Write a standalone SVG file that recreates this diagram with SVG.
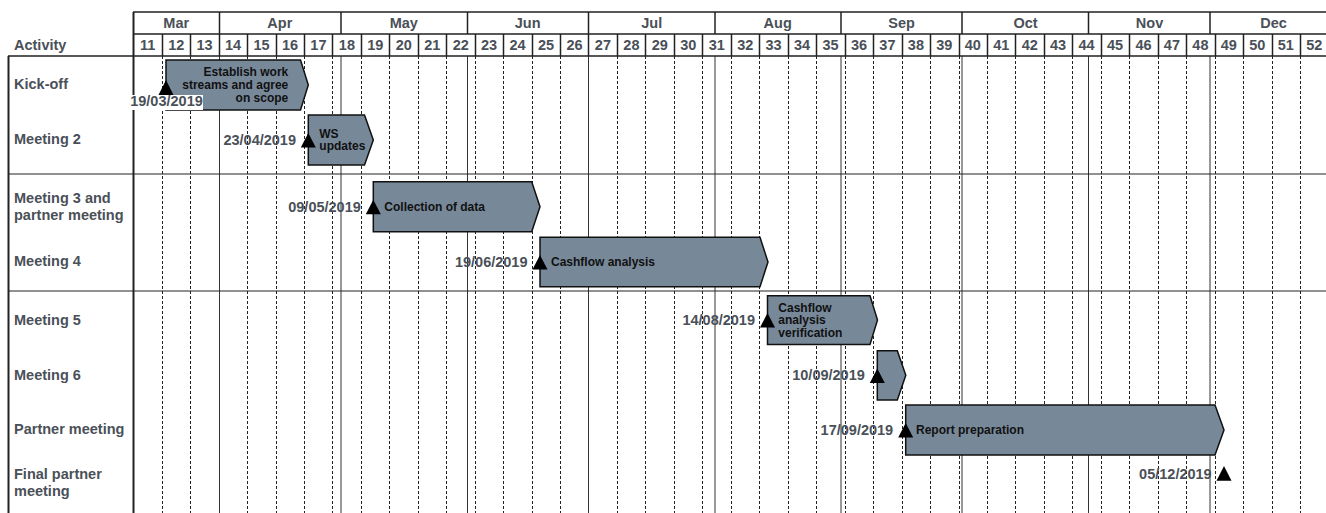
<svg xmlns="http://www.w3.org/2000/svg" width="1326" height="513" viewBox="0 0 1326 513">
<style>
.hd{font-family:"Liberation Sans",Arial,sans-serif;font-weight:bold;font-size:14.5px;fill:#4a5058}
.mc{text-anchor:middle}
.dt{font-family:"Liberation Sans",Arial,sans-serif;font-weight:bold;font-size:14.5px;fill:#4a5058;text-anchor:end}
.bt{font-family:"Liberation Sans",Arial,sans-serif;font-weight:bold;font-size:12px;fill:#111}
.bar{fill:#778899;stroke:#111;stroke-width:1.5;stroke-linejoin:miter}
.ms{fill:#000}
.hg{stroke:#222;stroke-width:1.5;fill:none}
.dash{stroke:#222;stroke-width:1;stroke-dasharray:3 2}
.mon{stroke:#333;stroke-width:1}
.row{stroke:#222;stroke-width:1}
</style>
<rect x="0" y="0" width="1326" height="513" fill="#fff"/>
<g id="grid">
  <g id="week-dashes">
    <path class="dash" d="M162.5 56V513M190.5 56V513M247.5 56V513M276.5 56V513M304.5 56V513M332.5 56V513M361.5 56V513M389.5 56V513M418.5 56V513M446.5 56V513M475.5 56V513M503.5 56V513M532.5 56V513M560.5 56V513M617.5 56V513M645.5 56V513M674.5 56V513M702.5 56V513M731.5 56V513M759.5 56V513M788.5 56V513M816.5 56V513M845.5 56V513M873.5 56V513M902.5 56V513M930.5 56V513M959.5 56V513M987.5 56V513M1015.5 56V513M1044.5 56V513M1072.5 56V513M1101.5 56V513M1129.5 56V513M1158.5 56V513M1186.5 56V513M1215.5 56V513M1243.5 56V513M1272.5 56V513M1300.5 56V513"/>
  </g>
  <g id="month-lines">
    <path class="mon" d="M219.5 56V513M341 56V513M467.5 56V513M588.5 56V513M715 56V513M841 56V513M962 56V513M1088.5 56V513M1210 56V513"/>
  </g>
  <g id="rows">
    <path class="row" d="M8 174H1326M8 291H1326"/>
  </g>
  <g id="header">
    <path class="hg" d="M133 12H1326M133 34H1326M8 56H1326"/>
    <path class="hg" d="M219.5 12V34M341 12V34M467.5 12V34M588.5 12V34M715 12V34M841 12V34M962 12V34M1088.5 12V34M1210 12V34"/>
    <path class="hg" d="M162.5 34V56M190.5 34V56M219.5 34V56M247.5 34V56M276.5 34V56M304.5 34V56M332.5 34V56M361.5 34V56M389.5 34V56M418.5 34V56M446.5 34V56M475.5 34V56M503.5 34V56M532.5 34V56M560.5 34V56M588.5 34V56M617.5 34V56M645.5 34V56M674.5 34V56M702.5 34V56M731.5 34V56M759.5 34V56M788.5 34V56M816.5 34V56M845.5 34V56M873.5 34V56M902.5 34V56M930.5 34V56M959.5 34V56M987.5 34V56M1015.5 34V56M1044.5 34V56M1072.5 34V56M1101.5 34V56M1129.5 34V56M1158.5 34V56M1186.5 34V56M1215.5 34V56M1243.5 34V56M1272.5 34V56M1300.5 34V56"/>
    <path d="M133.5 12V513" stroke="#222" stroke-width="2"/>
    <path d="M8.5 56V513" stroke="#222" stroke-width="2"/>
    <text class="hd" x="14" y="50">Activity</text>
    <g class="hd mc">
      <text x="176.2" y="28">Mar</text>
      <text x="279.8" y="28">Apr</text>
      <text x="403.8" y="28">May</text>
      <text x="527.7" y="28">Jun</text>
      <text x="651.7" y="28">Jul</text>
      <text x="777.7" y="28">Aug</text>
      <text x="901.6" y="28">Sep</text>
      <text x="1025.6" y="28">Oct</text>
      <text x="1149.5" y="28">Nov</text>
      <text x="1273.5" y="28">Dec</text>
    </g>
    <g class="hd mc">
      <text x="147.7" y="50">11</text><text x="176.2" y="50">12</text><text x="204.6" y="50">13</text><text x="233.1" y="50">14</text>
      <text x="261.5" y="50">15</text><text x="290" y="50">16</text><text x="318.4" y="50">17</text><text x="346.9" y="50">18</text>
      <text x="375.3" y="50">19</text><text x="403.8" y="50">20</text><text x="432.2" y="50">21</text><text x="460.7" y="50">22</text>
      <text x="489.1" y="50">23</text><text x="517.6" y="50">24</text><text x="546" y="50">25</text><text x="574.5" y="50">26</text>
      <text x="602.9" y="50">27</text><text x="631.4" y="50">28</text><text x="659.8" y="50">29</text><text x="688.3" y="50">30</text>
      <text x="716.7" y="50">31</text><text x="745.2" y="50">32</text><text x="773.6" y="50">33</text><text x="802.1" y="50">34</text>
      <text x="830.5" y="50">35</text><text x="859" y="50">36</text><text x="887.4" y="50">37</text><text x="915.9" y="50">38</text>
      <text x="944.3" y="50">39</text><text x="972.8" y="50">40</text><text x="1001.2" y="50">41</text><text x="1029.7" y="50">42</text>
      <text x="1058.1" y="50">43</text><text x="1086.6" y="50">44</text><text x="1115" y="50">45</text><text x="1143.5" y="50">46</text>
      <text x="1171.9" y="50">47</text><text x="1200.4" y="50">48</text><text x="1228.8" y="50">49</text><text x="1257.3" y="50">50</text>
      <text x="1285.7" y="50">51</text><text x="1314.2" y="50">52</text>
    </g>
  </g>
</g>
<g id="activity-labels" class="hd">
  <text x="14" y="89">Kick-off</text>
  <text x="14" y="144">Meeting 2</text>
  <text x="14" y="203">Meeting 3 and</text>
  <text x="14" y="220">partner meeting</text>
  <text x="14" y="266">Meeting 4</text>
  <text x="14" y="325">Meeting 5</text>
  <text x="14" y="380">Meeting 6</text>
  <text x="14" y="434">Partner meeting</text>
  <text x="14" y="479">Final partner</text>
  <text x="14" y="496">meeting</text>
</g>
<g id="connectors"></g>
<g id="bar-kickoff">
  <path class="bar" d="M166 60H300.5L308.3 85L300.5 110H166Z"/>
  <text class="bt" text-anchor="end" x="288.3" y="76">Establish work</text>
  <text class="bt" text-anchor="end" x="288.3" y="89">streams and agree</text>
  <text class="bt" text-anchor="end" x="288.3" y="102">on scope</text>
  <path class="ms" d="M166 80L173.5 95H158.5Z"/>
  <rect x="130" y="95" width="73" height="15" fill="#fff"/>
  <text class="dt" style="text-anchor:middle" x="166.5" y="106">19/03/2019</text>
</g>
<g id="bar-meeting2">
  <path class="bar" d="M308.3 115H364.5L373.3 140L364.5 165H308.3Z"/>
  <text class="bt" x="319.3" y="137.5">WS</text>
  <text class="bt" x="319.3" y="150">updates</text>
  <path class="ms" d="M308.3 133L315.8 147.5H300.8Z"/>
  <text class="dt" x="296" y="145">23/04/2019</text>
</g>
<g id="bar-meeting3">
  <path class="bar" d="M373.3 181.7H531.7L540 206.7L531.7 231.7H373.3Z"/>
  <text class="bt" x="384.3" y="211">Collection of data</text>
  <path class="ms" d="M373.3 199.7L380.8 214.2H365.8Z"/>
  <text class="dt" x="360.8" y="211.7">09/05/2019</text>
</g>
<g id="bar-meeting4">
  <path class="bar" d="M540 237.3H760L768 262L760 286.7H540Z"/>
  <text class="bt" x="551" y="265.5">Cashflow analysis</text>
  <path class="ms" d="M540 255L547.5 269.5H532.5Z"/>
  <text class="dt" x="527.5" y="267">19/06/2019</text>
</g>
<g id="bar-meeting5">
  <path class="bar" d="M767.5 295.7H870L877.5 320L870 344.5H767.5Z"/>
  <text class="bt" x="778.3" y="311.5">Cashflow</text>
  <text class="bt" x="778.3" y="324.3">analysis</text>
  <text class="bt" x="778.3" y="337">verification</text>
  <path class="ms" d="M767.5 313L775 327.5H760Z"/>
  <text class="dt" x="755" y="325">14/08/2019</text>
</g>
<g id="bar-meeting6">
  <path class="bar" d="M877.3 350.7H897.3L905.8 375.3L897.3 400H877.3Z"/>
  <path class="ms" d="M877.3 368.5L884.8 383H869.8Z"/>
  <text class="dt" x="864.8" y="380.3">10/09/2019</text>
</g>
<g id="bar-partner">
  <path class="bar" d="M905.7 405H1215L1224 430L1215 455H905.7Z"/>
  <text class="bt" x="916" y="434.3">Report preparation</text>
  <path class="ms" d="M905.7 423L913.2 437.5H898.2Z"/>
  <text class="dt" x="893.2" y="435">17/09/2019</text>
</g>
<g id="milestone-final">
  <path class="ms" d="M1224 466L1231.5 480.7H1216.5Z"/>
  <text class="dt" x="1211.7" y="478.5">05/12/2019</text>
</g>
</svg>
